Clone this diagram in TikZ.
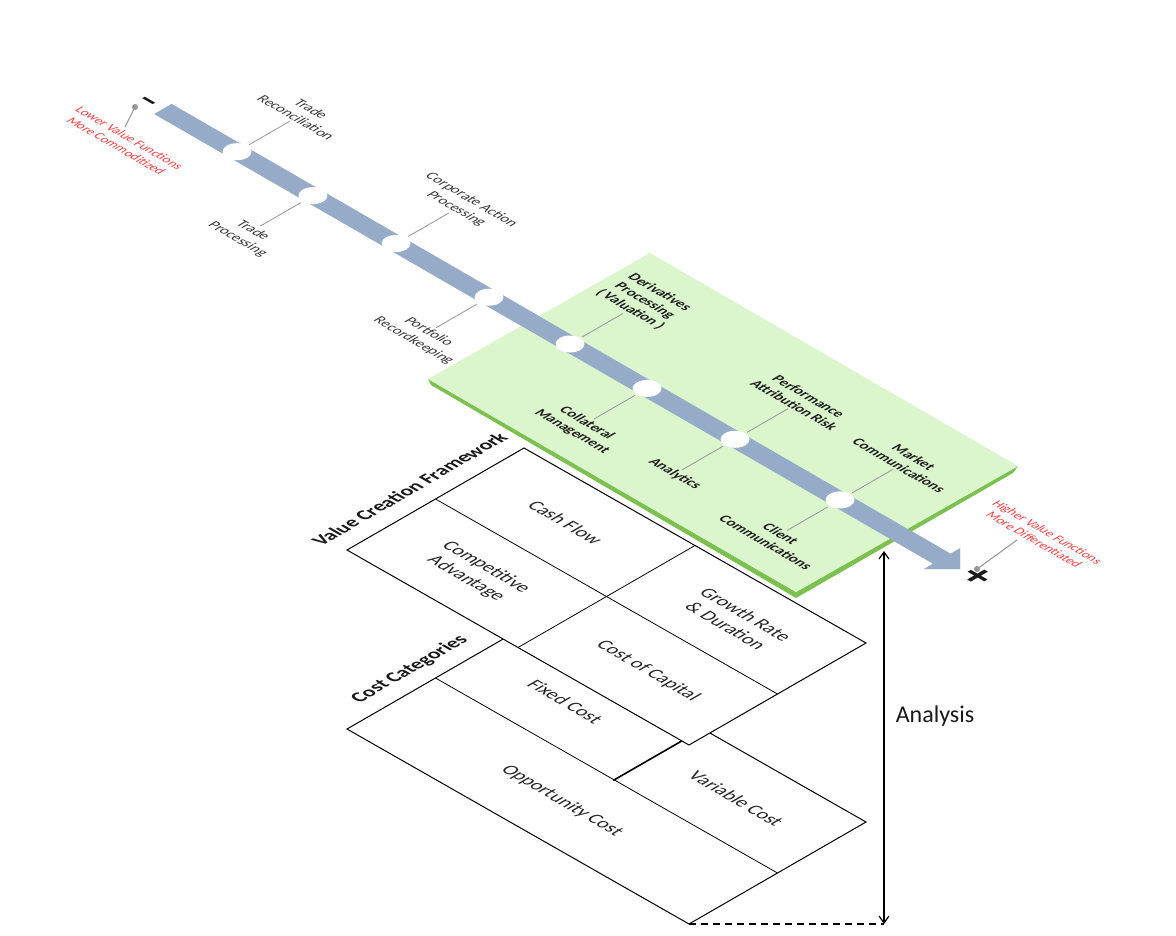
\documentclass[tikz,border=0pt]{standalone}
\usepackage{fontspec}
\setmainfont{Carlito}
\usetikzlibrary{arrows.meta,calc,shapes.geometric}
\definecolor{barblue}{RGB}{150,171,199}
\definecolor{barshadow}{RGB}{205,205,205}
\definecolor{planeshadow}{RGB}{190,190,190}
\definecolor{greenfill}{RGB}{219,246,205}
\definecolor{greenedge}{RGB}{124,193,80}
\definecolor{redtext}{RGB}{236,66,66}
\definecolor{labelgrey}{RGB}{56,56,56}
\definecolor{leadergrey}{RGB}{150,150,150}
\begin{document}
\begin{tikzpicture}[x=1pt,y=-1pt,
  isou/.style={cm={0.866,-0.5,0.866,0.5,(0,0)}},
  isov/.style={cm={0.866,0.5,-0.866,0.5,(0,0)}},
  lbl/.style={isou, align=center, inner sep=2pt, font=\fontsize{14.5}{17.5}\selectfont, text=labelgrey},
  blbl/.style={isou, align=center, inner sep=2pt, font=\fontsize{14.5}{17}\selectfont\bfseries, text=black!88},
  cell/.style={isou, align=center, inner sep=0pt, font=\fontsize{19}{23}\selectfont, text=black!85},
  ptitle/.style={isov, inner sep=0pt, font=\fontsize{19.7}{23}\selectfont\bfseries, text=black!90},
  redlbl/.style={isou, align=center, inner sep=0pt, font=\fontsize{13}{15.5}\selectfont, text=redtext},
  sign/.style={isou, inner sep=0pt, font=\bfseries, text=black!90},
  stop/.style={ellipse, fill=white, minimum width=29pt, minimum height=17pt, inner sep=0pt},
  leader/.style={draw=leadergrey, line width=0.8pt},
  plane/.style={fill=white, draw=black, line width=1pt, line join=miter},
  grid/.style={draw=black, line width=0.8pt}
  ]
\useasboundingbox (0,0) rectangle (1176,935);
\fill[white] (0,0) rectangle (1176,935);

% ---------------- Cost Categories plane ----------------
\coordinate (L2) at (347,729);
\coordinate (T2) at (524,627);
\coordinate (R2) at (866,822);
\coordinate (B2) at (689,924);
\fill[planeshadow, shift={(2,6)}] (L2) -- (T2) -- (R2) -- (B2) -- cycle;
\path[plane] (L2) -- (T2) -- (R2) -- (B2) -- cycle;
\draw[grid] ($(L2)!0.5!(T2)$) coordinate (cd1) -- ($(B2)!0.5!(R2)$) coordinate (cd2);
\coordinate (cx1) at (613.3,780.4);
\coordinate (cx2) at (701.8,729.4);
\draw[black, line width=1.6pt] (cx1) -- (cx2);
\node[cell] (fixed) at (565.5,701.5) {Fixed Cost};
\node[cell] (variable) at (736.5,798.5) {Variable Cost};
\node[cell] (opp) at (562,801) {Opportunity Cost};
\node[ptitle] (costtitle) at (409.7,669.2) {Cost Categories};

% ---------------- Value Creation Framework plane ----------------
\coordinate (L1) at (347,550);
\coordinate (T1) at (524,448);
\coordinate (R1) at (866,643);
\coordinate (B1) at (689,745);
\fill[planeshadow, shift={(2,6)}] (L1) -- (T1) -- (R1) -- (B1) -- cycle;
\path[plane] (L1) -- (T1) -- (R1) -- (B1) -- cycle;
\draw[grid] ($(L1)!0.5!(T1)$) coordinate (vd1) -- ($(B1)!0.5!(R1)$) coordinate (vd2);
\draw[grid] ($(L1)!0.5!(B1)$) coordinate (vx1) -- ($(T1)!0.5!(R1)$) coordinate (vx2);
\node[cell] (cash) at (565.5,522.5) {Cash Flow};
\node[cell] (compadv) at (476,573) {Competitive\\Advantage};
\node[cell] (growth) at (736,620) {Growth Rate\\\& Duration};
\node[cell] (capital) at (648,671) {Cost of Capital};
\node[ptitle] (vcftitle) at (409.4,489) {Value Creation Framework};

% ---------------- bar shadow ----------------
\coordinate (P1) at (171.7,104.0);
\coordinate (P2) at (950.5,553.7);
\coordinate (P3) at (960.0,548.2);
\coordinate (PT) at (960.0,569.2);
\coordinate (P5) at (923.6,569.2);
\coordinate (P6) at (933.1,563.7);
\coordinate (P7) at (154.3,114.0);
\fill[barshadow, shift={(-2,5)}] (P1) -- (P2) -- (P3) -- (PT) -- (P5) -- (P6) -- (P7) -- cycle;

% ---------------- green plane ----------------
\coordinate (Lg) at (428,379);
\coordinate (Tg) at (650,253);
\coordinate (Rg) at (1018,466);
\coordinate (Bg) at (796,592);
\fill[greenedge] (Lg) -- (Bg) -- (Rg) -- ($(Rg)+(-5,7)$) -- ($(Bg)+(0,6)$) -- ($(Lg)+(3,6)$) -- cycle;
\fill[greenfill] (Lg) -- (Tg) -- (Rg) -- (Bg) -- cycle;

% ---------------- bar ----------------
\fill[barblue] (P1) -- (P2) -- (P3) -- (PT) -- (P5) -- (P6) -- (P7) -- cycle;

% ---------------- stops ----------------
\node[stop] (c1) at (237,151.7) {};
\node[stop] (c2) at (313,195.6) {};
\node[stop] (c3) at (396,243.5) {};
\node[stop] (c4) at (489,297.2) {};
\node[stop] (c5) at (570,344.0) {};
\node[stop] (c6) at (647,388.4) {};
\node[stop] (c7) at (735,439.3) {};
\node[stop] (c8) at (840,499.9) {};

% ---------------- leaders and labels ----------------
\draw[leader] ($(c1.center)+(12.12,-7)$) -- ($(c1.center)+(52.83,-30.5)$) coordinate (e1);
\node[lbl, anchor=south] (t1) at (e1) {Trade\\Reconciliation};
\draw[leader] ($(c2.center)+(-12.12,7)$) -- ($(c2.center)+(-52.83,30.5)$) coordinate (e2);
\node[lbl, anchor=north] (t2) at (e2) {Trade\\Processing};
\draw[leader] ($(c3.center)+(12.12,-7)$) -- ($(c3.center)+(52.83,-30.5)$) coordinate (e3);
\node[lbl, anchor=south] (t3) at (e3) {Corporate Action\\Processing};
\draw[leader] ($(c4.center)+(-12.12,7)$) -- ($(c4.center)+(-52.83,30.5)$) coordinate (e4);
\node[lbl, anchor=north] (t4) at (e4) {Portfolio\\Recordkeeping};
\draw[leader] ($(c5.center)+(12.12,-7)$) -- ($(c5.center)+(52.83,-30.5)$) coordinate (e5);
\node[blbl, anchor=south] (t5) at (e5) {Derivatives\\Processing\\( Valuation )};
\draw[leader] ($(c6.center)+(-12.12,7)$) -- ($(c6.center)+(-52.83,30.5)$) coordinate (e6);
\node[blbl, anchor=north] (t6) at (e6) {Collateral\\Management};
\draw[leader] ($(c7.center)+(12.12,-7)$) -- ($(c7.center)+(52.83,-30.5)$) coordinate (e7);
\node[blbl, anchor=south] (t7) at (e7) {Performance\\Attribution Risk};
\draw[leader] ($(c7.center)+(-12.12,7)$) -- ($(c7.center)+(-52.83,30.5)$) coordinate (e8);
\node[blbl, anchor=north] (t8) at (e8) {Analytics};
\draw[leader] ($(c8.center)+(12.12,-7)$) -- ($(c8.center)+(52.83,-30.5)$) coordinate (e9);
\node[blbl, anchor=south] (t9) at (e9) {Market\\Communications};
\draw[leader] ($(c8.center)+(-12.12,7)$) -- ($(c8.center)+(-52.83,30.5)$) coordinate (e10);
\node[blbl, anchor=north] (t10) at (e10) {Client\\Communications};

% ---------------- ends of the scale ----------------
\coordinate (pinL) at (135,107);
\coordinate (pinLend) at (125,127);
\draw[leadergrey, line width=1pt] (pinL) -- (pinLend);
\fill[leadergrey] (pinL) circle (3pt);
\node[redlbl] (lowtxt) at (123,142) {Lower Value Functions\\More Commoditized};
\node[sign, font=\fontsize{34}{34}\selectfont\bfseries] (minus) at (146,102.5) {--};

\coordinate (pinR) at (977,569);
\coordinate (pinRend) at (1017,540);
\draw[leadergrey, line width=1pt] (pinR) -- (pinRend);
\fill[leadergrey] (pinR) circle (3pt);
\node[redlbl] (hightxt) at (1041,536) {Higher Value Functions\\More Differentiated};
\node[sign, font=\fontsize{42}{42}\selectfont\bfseries] (plus) at (977,577) {+};

% ---------------- analysis arrow ----------------
\coordinate (atop) at (884,551);
\coordinate (abot) at (884,924);
\draw[black, line width=1.2pt, {Straight Barb[length=7pt,width=10pt]}-{Straight Barb[length=7pt,width=10pt]}] (atop) -- (abot);
\draw[black, line width=1.3pt, dash pattern=on 7pt off 5pt] (B2) -- (abot);
\node[font=\fontsize{24}{28}\selectfont, text=black!90] (analysis) at (935,716) {Analysis};
\end{tikzpicture}
\end{document}
